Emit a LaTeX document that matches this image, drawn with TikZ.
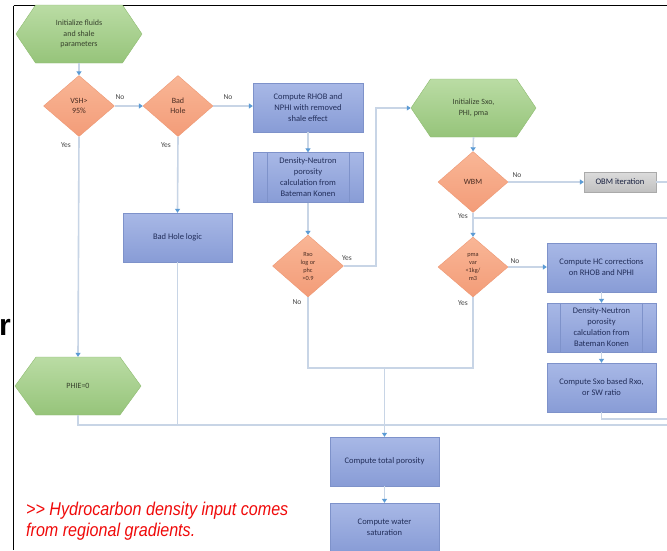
\documentclass[tikz,border=0pt]{standalone}
\usepackage{fontspec}
\setmainfont{Carlito}
\newfontfamily\notefont{Liberation Sans}
\usetikzlibrary{arrows.meta,shapes.geometric,shapes.symbols}
\definecolor{grnT}{RGB}{186,220,164}
\definecolor{grnB}{RGB}{150,196,122}
\definecolor{grnD}{RGB}{142,188,112}
\definecolor{orgT}{RGB}{249,182,150}
\definecolor{orgB}{RGB}{243,156,120}
\definecolor{orgD}{RGB}{238,152,116}
\definecolor{bluT}{RGB}{168,184,230}
\definecolor{bluB}{RGB}{136,156,214}
\definecolor{bluD}{RGB}{126,146,202}
\definecolor{gryT}{RGB}{220,220,220}
\definecolor{gryB}{RGB}{192,192,192}
\definecolor{gryD}{RGB}{170,170,170}
\definecolor{lineC}{RGB}{200,213,230}
\definecolor{tipC}{RGB}{91,155,213}
\definecolor{txtB}{RGB}{34,46,90}
\definecolor{txtG}{RGB}{55,66,45}
\definecolor{txtO}{RGB}{75,45,35}
\definecolor{lblC}{RGB}{70,70,70}
\definecolor{noteC}{RGB}{240,10,10}
\tikzset{
  hexa/.style={signal, signal to=west and east, signal pointer angle=112,
    draw=grnD, top color=grnT, bottom color=grnB, text=txtG, align=center,
    font=\fontsize{8}{10.5}\selectfont, inner sep=0pt, minimum width=126, minimum height=58},
  dia/.style={diamond, draw=orgD, top color=orgT, bottom color=orgB, text=txtO,
    align=center, inner sep=0pt, minimum width=71, minimum height=61,
    font=\fontsize{8}{10}\selectfont},
  smalldia/.style={dia, font=\fontsize{6.3}{8}\selectfont},
  box/.style={rectangle, draw=bluD, top color=bluT, bottom color=bluB, text=txtB,
    align=center, inner sep=0pt, minimum width=109, minimum height=49,
    font=\fontsize{8.5}{11}\selectfont},
  graybox/.style={rectangle, draw=gryD, top color=gryT, bottom color=gryB, text=txtB!70!black,
    align=center, inner sep=0pt, minimum width=72, minimum height=20,
    font=\fontsize{8.5}{11}\selectfont},
  conn/.style={draw=lineC, line width=1.6pt, -{Triangle[length=4pt,width=5pt,color=tipC]}},
  wire/.style={draw=lineC, line width=1.6pt},
  lbl/.style={text=lblC, font=\fontsize{7.5}{9}\selectfont, inner sep=0pt},
}
\begin{document}
\begin{tikzpicture}[x=1pt,y=-1pt]
\useasboundingbox (0,0) rectangle (667,550);
\clip (0,0) rectangle (667,550);
\fill[white] (0,0) rectangle (667,550);
% frame
\draw[black, line width=1.2pt] (13.5,5.5) -- (667,5.5);
\draw[black, line width=1.2pt] (13.5,5.5) -- (13.5,550);
\node[anchor=base east, font=\notefont\bfseries\fontsize{30}{30}\selectfont, inner sep=0pt] (rr) at (11,335) {r};

% nodes
\node[hexa] (h1) at (79,34) {Initialize fluids\\and shale\\parameters};
\node[dia] (d1) at (79,106) {VSH>\\95\%};
\node[dia, minimum width=70] (d2) at (178,106) {Bad\\Hole};
\node[box, minimum width=110] (b1) at (308,107.5) {Compute RHOB and\\NPHI with removed\\shale effect};
\node[box, minimum width=110, minimum height=50] (b2) at (308,177.5) {Density-Neutron\\porosity\\calculation from\\Bateman Konen};
\draw[bluD] ([xshift=14]b2.north west) -- ([xshift=14]b2.south west);
\draw[bluD] ([xshift=-14]b2.north east) -- ([xshift=-14]b2.south east);
\node[smalldia, minimum height=62] (d3) at (308,266) {Rxo\\log or\\phc\\>0.9};
\node[box] (b3) at (177.5,237.5) {Bad Hole logic};
\node[hexa, signal pointer angle=108] (h2) at (78,386) {PHIE=0};
\node[hexa, minimum width=125] (h3) at (473.5,108) {Initialize Sxo,\\PHI, pma};
\node[dia, minimum width=70] (d4) at (473,182) {WBM};
\node[graybox] (g1) at (620,182) {OBM iteration};
\node[smalldia, minimum width=70, minimum height=60] (d5) at (473,267) {pma\\var\\<1kg/\\m3};
\node[box] (b4) at (601.5,267.5) {Compute HC corrections\\on RHOB and NPHI};
\node[box] (b5) at (601.5,327.5) {Density-Neutron\\porosity\\calculation from\\Bateman Konen};
\draw[bluD] ([xshift=13]b5.north west) -- ([xshift=13]b5.south west);
\draw[bluD] ([xshift=-14]b5.north east) -- ([xshift=-14]b5.south east);
\node[box] (b6) at (601.5,387.5) {Compute Sxo based Rxo,\\or SW ratio};
\node[box] (b7) at (384.5,461.5) {Compute total porosity};
\node[box] (b8) at (384.5,527.5) {Compute water\\saturation};

% free-end coordinates
\coordinate (j1) at (384.5,368);
\coordinate (busR) at (667,425);
\coordinate (sxoR) at (667,419);
\coordinate (wbmR) at (667,218);
\coordinate (obmR) at (667,182);

% connectors
\draw[conn] (h1.south) -- (d1.north);
\draw[conn] (d1.east) -- (d2.west);
\draw[conn] (d2.east) -- (d2.east -| b1.west);
\draw[conn] (b1.south) -- (b2.north);
\draw[conn] (b2.south) -- (d3.north);
\draw[conn] (d3.east) -- ([xshift=32]d3.east) |- (h3.west);
\draw[conn] (d2.south) -- (b3.north);
\draw[conn] (d1.south) -- (h2.north);
\draw[conn] (h3.south) -- (d4.north);
\draw[conn] (d4.east) -- (g1.west);
\draw[wire] (g1.east) -- (obmR);
\draw[conn] (d4.south) -- (d5.north);
\draw[wire] (d4.south |- wbmR) -- (wbmR);
\draw[conn] (d5.east) -- (d5.east -| b4.west);
\draw[conn] (b4.south) -- (b5.north);
\draw[conn] (b5.south) -- (b6.north);
\draw[wire] (b6.south) |- (sxoR);
\draw[wire] (d3.south) |- (j1);
\draw[wire] (d5.south) |- (j1);
\draw[wire] (h2.south) |- (busR);
\draw[wire] (b3.south) -- (b3.south |- busR);
\draw[conn] (j1) -- (b7.north);
\draw[conn] (b7.south) -- (b8.north);

% labels
\node[lbl] (l1) at (120,97) {No};
\node[lbl] (l2) at (228,97) {No};
\node[lbl] (l3) at (66,145) {Yes};
\node[lbl] (l4) at (166,145) {Yes};
\node[lbl] (l5) at (347,258) {Yes};
\node[lbl] (l6) at (297,302) {No};
\node[lbl] (l7) at (517,175) {No};
\node[lbl] (l8) at (463,216) {Yes};
\node[lbl] (l9) at (515,261) {No};
\node[lbl] (l10) at (463,303) {Yes};

% note
\node[anchor=north west, align=left, inner sep=0pt, text=noteC,
  font=\notefont\itshape\fontsize{18.5}{21}\selectfont] (note) at (26,502)
  {\scalebox{0.87}[1]{>> Hydrocarbon density input comes}\\\scalebox{0.87}[1]{from regional gradients.}};
\end{tikzpicture}
\end{document}
